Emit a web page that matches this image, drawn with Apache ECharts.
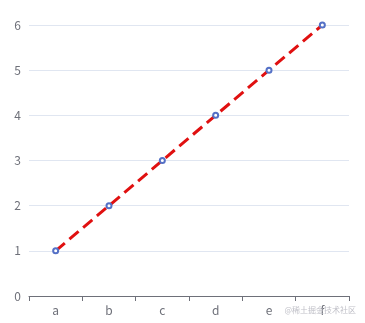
<!DOCTYPE html>
<html><head><meta charset="utf-8">
<script src="https://cdn.jsdelivr.net/npm/echarts@6/dist/echarts.min.js"></script>
<style>html,body{margin:0;padding:0;background:#fff}#c{width:365px;height:323px}</style>
</head><body><div id="c"></div>
<script>
var categories = ['a','b','c','d','e','f'];
var values = [1,2,3,4,5,6];
var chart = echarts.init(document.getElementById('c'));
chart.setOption({
  animation:false,
  textStyle:{fontFamily:'"Noto Sans CJK SC", "Noto Sans", sans-serif'},
  grid:{left:29,right:16,top:25,bottom:27,containLabel:false},
  xAxis:{type:'category',data:categories,axisLabel:{color:'#6e7079',fontSize:12},
    axisLine:{lineStyle:{color:'#6e7079'}},
    axisTick:{show:true,length:5,lineStyle:{color:'#6e7079'}}},
  yAxis:{type:'value',min:0,max:6,interval:1,axisLabel:{color:'#6e7079',fontSize:12},splitLine:{lineStyle:{color:'#e0e6f1'}}},
  series:[{type:'line',data:values,symbol:'emptyCircle',symbolSize:5,
    itemStyle:{color:'#5470c6',borderWidth:1.5},
    lineStyle:{color:'#e01010',width:3,type:'dashed'}}],
  graphic:[{type:'text',right:9,bottom:9,z:100,style:{text:'@稀土掘金技术社区',fill:'#c0c0c8',fontSize:8,fontFamily:'"Noto Sans CJK SC", sans-serif'}}]
});
</script></body></html>
